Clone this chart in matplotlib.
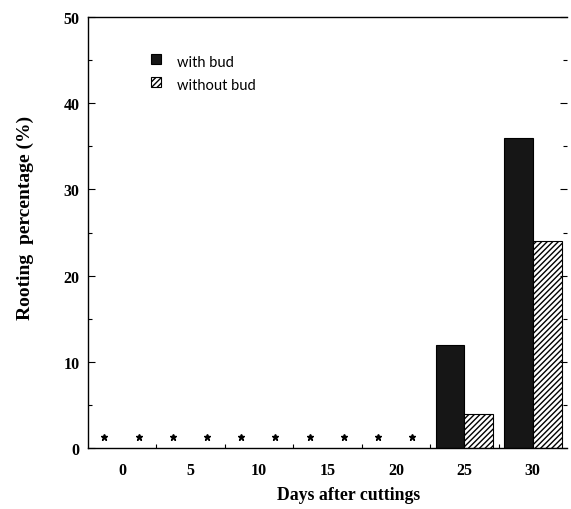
import matplotlib
matplotlib.use("Agg")
import matplotlib.pyplot as plt
from matplotlib.patches import Rectangle
import numpy as np

days = ["0", "5", "10", "15", "20", "25", "30"]
with_bud = [0, 0, 0, 0, 0, 12, 36]
without_bud = [0, 0, 0, 0, 0, 4, 24]
series_names = ["with bud", "without bud"]

fig = plt.figure(figsize=(5.71, 5.10), dpi=100)
ax = fig.add_axes([88/571, 61/510, 479/571, 431/510])

x = np.arange(len(days))
w = 0.42
serif = "Liberation Serif"
dark = "#161616"
hatch = "//////"

for i in range(len(days)):
    if with_bud[i] > 0:
        ax.bar(x[i] - w/2, with_bud[i], w, color=dark, edgecolor="black", linewidth=0.8)
    else:
        ax.plot(x[i] - 0.26, 1.3, marker="*", color="black", markersize=5, linestyle="none")
    if without_bud[i] > 0:
        ax.bar(x[i] + w/2, without_bud[i], w, color="white", edgecolor="black",
               hatch=hatch, linewidth=0.8)
    else:
        ax.plot(x[i] + 0.24, 1.3, marker="*", color="black", markersize=5, linestyle="none")

ax.set_xlim(-0.5, len(days) - 0.5)
ax.set_ylim(0, 50)

ax.set_xticks(x)
ax.set_xticklabels(days, fontfamily=serif, fontweight="bold", fontsize=11.5)
ax.set_xticks(np.arange(0.5, len(days) - 0.5, 1), minor=True)
ax.tick_params(axis="x", which="major", length=0, pad=10)
ax.tick_params(axis="x", which="minor", direction="in", length=3, width=0.8)

ax.set_yticks(np.arange(0, 51, 10))
ax.set_yticklabels([str(v) for v in range(0, 51, 10)], fontfamily=serif,
                   fontweight="bold", fontsize=11.5)
ax.set_yticks(np.arange(5, 50, 10), minor=True)
ax.tick_params(axis="y", which="major", direction="in", length=5, width=0.8,
               right=True, pad=6)
ax.tick_params(axis="y", which="minor", direction="in", length=3, width=0.8, right=True)

ax.spines["right"].set_visible(False)
for s in ["left", "bottom", "top"]:
    ax.spines[s].set_linewidth(1.0)

ax.set_ylabel("Rooting  percentage (%)", fontfamily=serif, fontweight="bold", fontsize=14)
ax.yaxis.set_label_coords(-0.113, 0.536)
ax.set_xlabel("Days after cuttings", fontfamily=serif, fontweight="bold", fontsize=12.8)
ax.xaxis.set_label_coords(0.543, -0.088)

# legend drawn manually
leg_y = [0.891, 0.8376]
styles = [dict(facecolor=dark, edgecolor="black"),
          dict(facecolor="white", edgecolor="black", hatch=hatch)]
for yy, st, name in zip(leg_y, styles, series_names):
    ax.add_patch(Rectangle((0.1315, yy), 0.0209, 0.0232, transform=ax.transAxes,
                           linewidth=0.8, **st))
    ax.text(0.186, yy + 0.004, name, transform=ax.transAxes, va="center", ha="left",
            fontfamily="Lato", fontsize=10.5)

fig.savefig("out.png", dpi=100)
